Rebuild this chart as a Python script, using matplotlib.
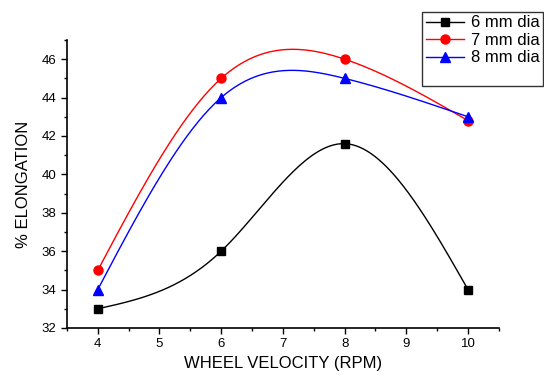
import numpy as np
import matplotlib.pyplot as plt
from matplotlib.lines import Line2D

plt.rcParams['font.family'] = ['Liberation Sans', 'DejaVu Sans']

velocity = [4, 6, 8, 10]
elong_6mm = [33, 36, 41.6, 34]
elong_7mm = [35, 45, 46, 42.8]
elong_8mm = [34, 44, 45, 43]


def spline(x, y, n=200):
    # natural cubic spline through the points, for the smooth connecting line
    x = np.asarray(x, float)
    y = np.asarray(y, float)
    k = len(x)
    h = np.diff(x)
    A = np.zeros((k, k))
    b = np.zeros(k)
    A[0, 0] = A[-1, -1] = 1
    for i in range(1, k - 1):
        A[i, i - 1] = h[i - 1]
        A[i, i] = 2 * (h[i - 1] + h[i])
        A[i, i + 1] = h[i]
        b[i] = 6 * ((y[i + 1] - y[i]) / h[i] - (y[i] - y[i - 1]) / h[i - 1])
    M = np.linalg.solve(A, b)
    xs = np.linspace(x[0], x[-1], n)
    idx = np.clip(np.searchsorted(x, xs) - 1, 0, k - 2)
    x0, x1 = x[idx], x[idx + 1]
    hh = x1 - x0
    ys = (M[idx] * (x1 - xs) ** 3 / (6 * hh) + M[idx + 1] * (xs - x0) ** 3 / (6 * hh)
          + (y[idx] / hh - M[idx] * hh / 6) * (x1 - xs)
          + (y[idx + 1] / hh - M[idx + 1] * hh / 6) * (xs - x0))
    return xs, ys


fig = plt.figure(figsize=(5.44, 3.77), dpi=100)
ax = fig.add_axes([0.123, 0.130, 0.794, 0.764])

series = [(elong_6mm, 'black', 's', '6 mm dia', 5.5),
          (elong_7mm, 'red', 'o', '7 mm dia', 6.5),
          (elong_8mm, 'blue', '^', '8 mm dia', 7)]

handles = []
for vals, col, mk, lab, ms in series:
    xs, ys = spline(velocity, vals)
    ax.plot(xs, ys, color=col, lw=1)
    ax.plot(velocity, vals, ls='none', marker=mk, color=col, ms=ms)
    h, = ax.plot([], [], color=col, lw=1, marker=mk, ms=ms, label=lab)
    handles.append(h)
# empty row so the legend box has the same blank space at the bottom
handles.append(Line2D([], [], color='none', label=' '))

ax.set_xlim(3.5, 10.5)
ax.set_ylim(32, 47)
ax.set_xticks(range(4, 11))
ax.set_xticks(np.arange(3.5, 10.6, 0.5), minor=True)
ax.set_yticks(range(32, 47, 2))
ax.set_yticks(range(32, 48), minor=True)
ax.tick_params(direction='out', labelsize=9.5, length=4, width=1)
ax.tick_params(which='minor', direction='out', length=2.5, width=1)
for s in ['top', 'right']:
    ax.spines[s].set_visible(False)
for s in ['left', 'bottom']:
    ax.spines[s].set_linewidth(1.2)

ax.set_xlabel('WHEEL VELOCITY (RPM)', fontsize=12)
ax.set_ylabel('% ELONGATION', fontsize=12, labelpad=8)

fig.legend(handles=handles, loc='upper right', bbox_to_anchor=(0.998, 0.968),
           fontsize=12, frameon=True, fancybox=False, edgecolor='black',
           handlelength=2.3, borderpad=0.2, labelspacing=0.15, handletextpad=0.4,
           borderaxespad=0)

fig.savefig('out.png', dpi=100)
